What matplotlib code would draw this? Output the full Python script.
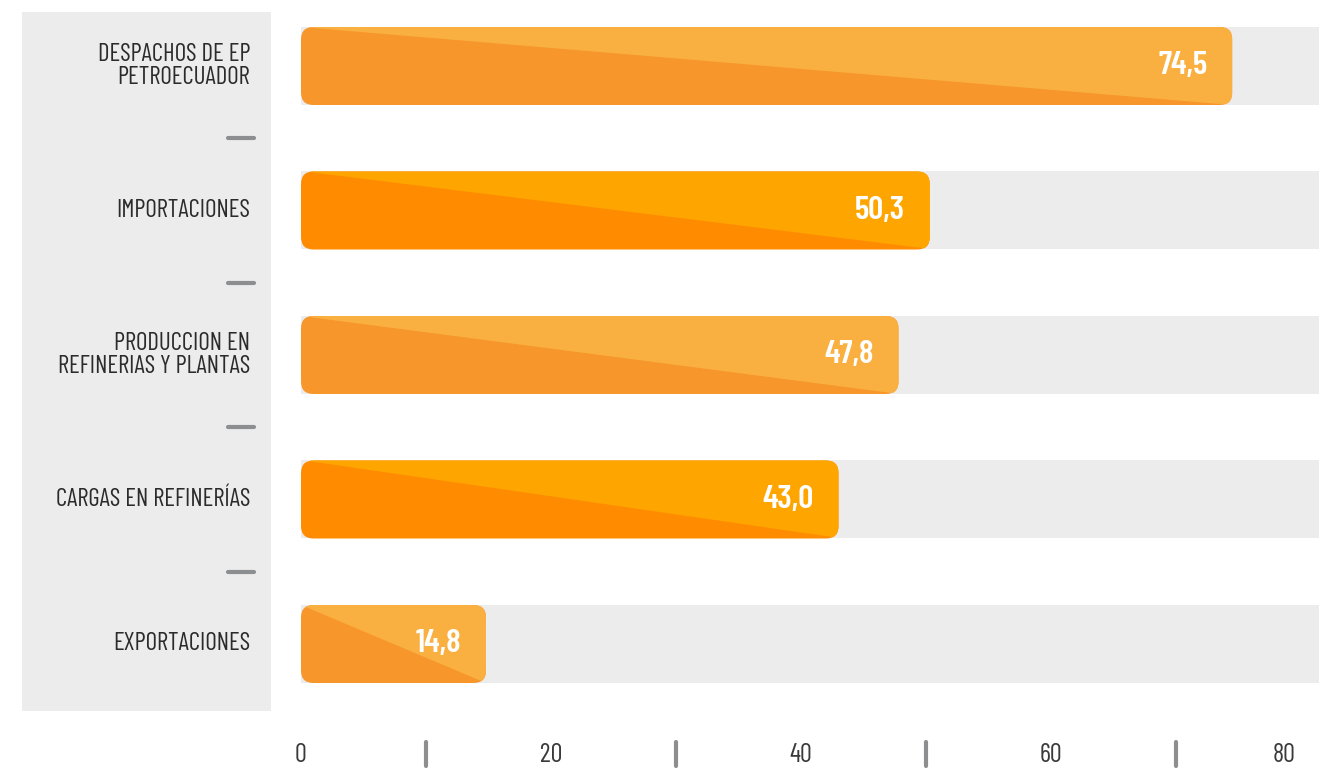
import numpy as np
import matplotlib
matplotlib.use('Agg')
import matplotlib.pyplot as plt
from matplotlib import font_manager as fm
from matplotlib.patches import FancyBboxPatch, Polygon, Rectangle

categories = ['DESPACHOS DE EP\nPETROECUADOR', 'IMPORTACIONES',
              'PRODUCCION EN\nREFINERIAS Y PLANTAS', 'CARGAS EN REFINERÍAS',
              'EXPORTACIONES']
values = [74.5, 50.3, 47.8, 43.0, 14.8]
labels = ['74,5', '50,3', '47,8', '43,0', '14,8']
xticks = [0, 20, 40, 60, 80]
minor_ticks = [10, 30, 50, 70]

dark = ['#F7962A', '#FF8C00', '#F7962A', '#FF8C00', '#F7962A']
light = ['#F9B040', '#FFA500', '#F9B040', '#FFA500', '#F9B040']
track = '#EBECEB'

installed = {f.name for f in fm.fontManager.ttflist}
cands = ['Barlow Condensed', 'Roboto Condensed', 'Archivo Narrow',
         'IBM Plex Sans Condensed', 'Open Sans Condensed']
narrow = [c for c in cands if c in installed][:1] + ['DejaVu Sans']

W, H = 1319, 769
fig = plt.figure(figsize=(W / 100, H / 100), dpi=100)
x0 = 301
ax = fig.add_axes([x0 / W, 0, (W - x0) / W, 1])

pxu = 12.5      # pixels per x unit
pyu = 144.5     # pixels per category
xmax = (W - x0) / pxu
ax.set_xlim(0, xmax)
ax.set_ylim(4 + (H - 644) / pyu, -66 / pyu)
ax.axis('off')

h = 78 / pyu
y = np.arange(len(values))

# left grey panel
ax.add_patch(Rectangle(((22 - x0) / pxu, -54 / pyu), 249 / pxu, 699 / pyu,
                       facecolor=track, edgecolor='none', clip_on=False, zorder=0))

# tracks
ax.barh(y, xmax, height=h, color=track, zorder=1)

aspect = pxu / pyu
for i, v in enumerate(values):
    box = FancyBboxPatch((0, i - h / 2), v, h,
                         boxstyle='round,pad=0,rounding_size=1.0',
                         mutation_aspect=aspect,
                         facecolor=dark[i], edgecolor='none', zorder=2)
    ax.add_patch(box)
    tri = Polygon([(0, i - h / 2), (v, i - h / 2), (v, i + h / 2)],
                  closed=True, facecolor=light[i], edgecolor='none', zorder=3)
    ax.add_patch(tri)
    tri.set_clip_path(box)
    ax.text(v - 25 / pxu, i, labels[i], ha='right', va='center',
            color='white', fontsize=24, fontweight='semibold', family=narrow, zorder=4)

# category labels
for i, c in enumerate(categories):
    ax.text(-51 / pxu, i, c, ha='right', va='center', color='#2B2B2B',
            fontsize=18, fontweight='normal', family=narrow, linespacing=1.05,
            clip_on=False)

# separators
for s in y[:-1] + 0.5:
    ax.plot([(228 - x0) / pxu, (254 - x0) / pxu], [s, s], color='#8D8E90',
            lw=3, solid_capstyle='round', clip_on=False)

# x axis labels and marks (last label kept inside the canvas)
for t in xticks:
    last = t == xticks[-1]
    ax.text(t - (5 / pxu if last else 0), 4 + (755 - 644) / pyu, str(t),
            ha='right' if last else 'center', va='center',
            color='#3A3A3A', fontsize=19, fontweight='normal', family=narrow)
for t in minor_ticks:
    ax.plot([t, t], [4 + (742 - 644) / pyu, 4 + (766 - 644) / pyu],
            color='#8D8E90', lw=3, solid_capstyle='round')

fig.savefig('out.png', dpi=100)
